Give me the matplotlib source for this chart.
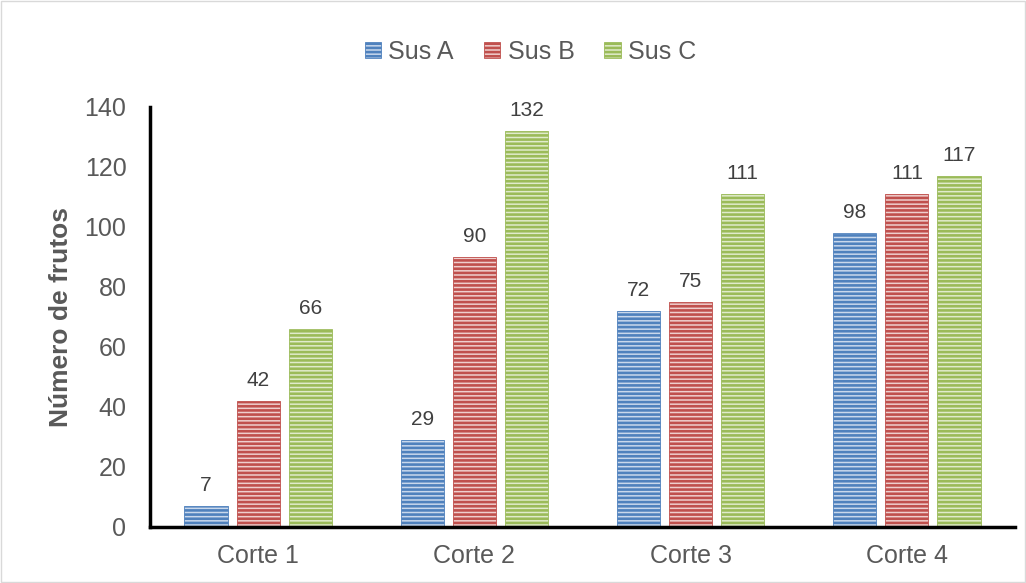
import matplotlib
matplotlib.use('Agg')
import matplotlib.pyplot as plt
import numpy as np
from matplotlib.patches import Rectangle

plt.rcParams['font.family'] = ['Liberation Sans', 'DejaVu Sans']
plt.rcParams['hatch.linewidth'] = 1.9

# data
cortes = ['Corte 1', 'Corte 2', 'Corte 3', 'Corte 4']
series = ['Sus A', 'Sus B', 'Sus C']
sus_a = [7, 29, 72, 98]
sus_b = [42, 90, 75, 111]
sus_c = [66, 132, 111, 117]

main_cols = ['#4F81BD', '#C0504D', '#9BBB59']
light_cols = ['#C9D8EC', '#EFCFCE', '#E0EBCC']
TXT = '#595959'

fig = plt.figure(figsize=(10.26, 5.83), dpi=100)
ax = fig.add_axes([150 / 1026, 56 / 583, 865 / 1026, 420 / 583])

x = np.arange(len(cortes))
width = 0.2
step = 0.241
for i, (name, vals) in enumerate(zip(series, [sus_a, sus_b, sus_c])):
    bars = ax.bar(x + (i - 1) * step, vals, width, label=name,
                  facecolor=light_cols[i], edgecolor=main_cols[i],
                  linewidth=0.6, hatch='----')
    for b, v in zip(bars, vals):
        ax.annotate(str(v), (b.get_x() + b.get_width() / 2, v),
                    xytext=(0, 8), textcoords='offset points',
                    ha='center', va='bottom', fontsize=15, color='#404040')

ax.set_xlim(-0.5, 3.5)
ax.set_ylim(0, 140)
ax.set_yticks(range(0, 141, 20))
ax.set_xticks(x)
ax.set_xticklabels(cortes)
ax.tick_params(axis='both', length=0, labelsize=18, labelcolor=TXT)
ax.tick_params(axis='y', pad=17)
ax.tick_params(axis='x', pad=12)
ax.set_ylabel('Número de frutos', fontsize=19, fontweight='bold', color=TXT,
              labelpad=8)

for s in ['top', 'right']:
    ax.spines[s].set_visible(False)
for s in ['left', 'bottom']:
    ax.spines[s].set_linewidth(2.5)
    ax.spines[s].set_color('black')

fig.legend(loc='center', bbox_to_anchor=(0.517, 0.911), ncol=3, frameon=False,
           fontsize=18, labelcolor=TXT, handlelength=0.65, handleheight=0.65,
           handletextpad=0.3, columnspacing=1.2)

fig.patches.append(Rectangle((0.001, 0.001), 0.998, 0.997, transform=fig.transFigure,
                             fill=False, edgecolor='#D9D9D9', linewidth=1))

plt.savefig('out.png', dpi=100)
